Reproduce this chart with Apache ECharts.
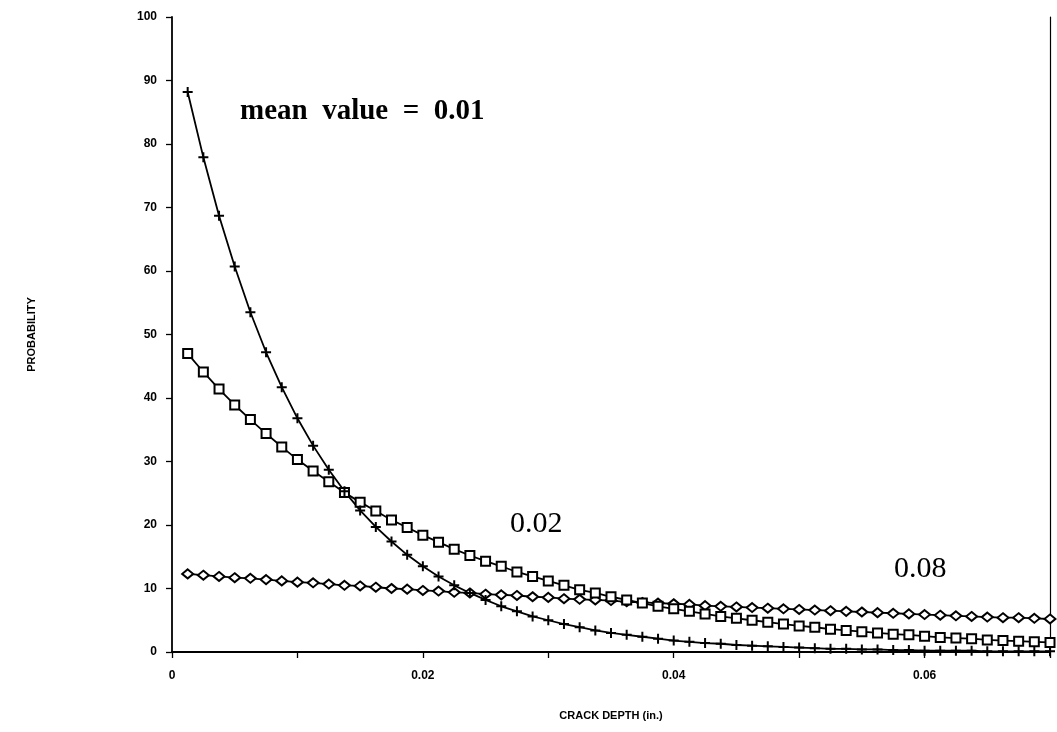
<!DOCTYPE html>
<html>
<head>
<meta charset="utf-8">
<script src="https://cdn.jsdelivr.net/npm/echarts@6/dist/echarts.min.js"></script>
<style>
  html, body { margin: 0; padding: 0; background: #fff; }
  #chart { width: 1057px; height: 732px; }
</style>
</head>
<body>
<div id="chart"></div>
<script>
// crack depth (in.)
const crackDepth = [
  0.00125, 0.0025, 0.00375, 0.005, 0.00625, 0.0075, 0.00875, 0.01,
  0.01125, 0.0125, 0.01375, 0.015, 0.01625, 0.0175, 0.01875, 0.02,
  0.02125, 0.0225, 0.02375, 0.025, 0.02625, 0.0275, 0.02875, 0.03,
  0.03125, 0.0325, 0.03375, 0.035, 0.03625, 0.0375, 0.03875, 0.04,
  0.04125, 0.0425, 0.04375, 0.045, 0.04625, 0.0475, 0.04875, 0.05,
  0.05125, 0.0525, 0.05375, 0.055, 0.05625, 0.0575, 0.05875, 0.06,
  0.06125, 0.0625, 0.06375, 0.065, 0.06625, 0.0675, 0.06875, 0.07
];
// mean value = 0.01  (+ markers)
const mean001 = [
  88.2, 77.9, 68.7, 60.7, 53.5, 47.2, 41.7, 36.8,
  32.5, 28.7, 25.3, 22.3, 19.7, 17.4, 15.3, 13.5,
  11.9, 10.5, 9.3, 8.2, 7.2, 6.4, 5.6, 5.0,
  4.4, 3.9, 3.4, 3.0, 2.7, 2.4, 2.1, 1.8,
  1.6, 1.4, 1.3, 1.1, 1.0, 0.9, 0.8, 0.7,
  0.6, 0.5, 0.5, 0.4, 0.4, 0.3, 0.3, 0.2,
  0.2, 0.2, 0.2, 0.1, 0.1, 0.1, 0.1, 0.1
];
// mean value = 0.02  (square markers)
const mean002 = [
  47.0, 44.1, 41.4, 38.9, 36.6, 34.4, 32.3, 30.3,
  28.5, 26.8, 25.1, 23.6, 22.2, 20.8, 19.6, 18.4,
  17.3, 16.2, 15.2, 14.3, 13.5, 12.6, 11.9, 11.2,
  10.5, 9.8, 9.3, 8.7, 8.2, 7.7, 7.2, 6.8,
  6.4, 6.0, 5.6, 5.3, 5.0, 4.7, 4.4, 4.1,
  3.9, 3.6, 3.4, 3.2, 3.0, 2.8, 2.7, 2.5,
  2.3, 2.2, 2.1, 1.9, 1.8, 1.7, 1.6, 1.5
];
// mean value = 0.08  (diamond markers)
const mean008 = [
  12.3, 12.1, 11.9, 11.7, 11.6, 11.4, 11.2, 11.0,
  10.9, 10.7, 10.5, 10.4, 10.2, 10.0, 9.9, 9.7,
  9.6, 9.4, 9.3, 9.1, 9.0, 8.9, 8.7, 8.6,
  8.4, 8.3, 8.2, 8.1, 7.9, 7.8, 7.7, 7.6,
  7.5, 7.3, 7.2, 7.1, 7.0, 6.9, 6.8, 6.7,
  6.6, 6.5, 6.4, 6.3, 6.2, 6.1, 6.0, 5.9,
  5.8, 5.7, 5.6, 5.5, 5.4, 5.4, 5.3, 5.2
];
const xTickLabels = ["0", "0.02", "0.04", "0.06"];

const pair = (ys) => crackDepth.map((x, i) => [x, ys[i]]);

const plusPath = "path://M4,0 H6 V4 H10 V6 H6 V10 H4 V6 H0 V4 H4 Z";
const axisFont = { fontFamily: "Liberation Sans", fontWeight: "bold", fontSize: 12, color: "#000" };

const chart = echarts.init(document.getElementById("chart"), null, { renderer: "canvas" });

chart.setOption({
  backgroundColor: "#fff",
  animation: false,
  grid: { left: 172, right: 7, top: 17, bottom: 80 },
  xAxis: {
    type: "value",
    min: 0,
    max: 0.07,
    interval: 0.01,
    name: "CRACK DEPTH (in.)",
    nameLocation: "middle",
    nameGap: 58,
    nameTextStyle: { fontFamily: "Liberation Sans", fontWeight: "bold", fontSize: 11, color: "#000" },
    axisLine: { show: true, onZero: false, lineStyle: { color: "#000", width: 1.8 } },
    axisTick: { show: true, inside: false, length: 6, lineStyle: { color: "#000", width: 1.3 } },
    splitLine: { show: false },
    axisLabel: Object.assign({
      margin: 18,
      formatter: (v) => {
        const s = String(+v.toFixed(2));
        return xTickLabels.includes(s) ? s : "";
      }
    }, axisFont)
  },
  yAxis: [
    {
      type: "value",
      min: 0,
      max: 100,
      interval: 10,
      name: "PROBABILITY",
      nameLocation: "middle",
      nameGap: 135,
      nameRotate: 90,
      nameTextStyle: { fontFamily: "Liberation Sans", fontWeight: "bold", fontSize: 11, color: "#000" },
      axisLine: { show: true, lineStyle: { color: "#000", width: 1.8 } },
      axisTick: { show: true, length: 6, lineStyle: { color: "#000", width: 1.3 } },
      splitLine: { show: false },
      axisLabel: Object.assign({ margin: 15 }, axisFont)
    },
    {
      type: "value",
      position: "right",
      min: 0,
      max: 100,
      axisLine: { show: true, lineStyle: { color: "#000", width: 1.2 } },
      axisTick: { show: false },
      axisLabel: { show: false },
      splitLine: { show: false }
    }
  ],
  series: [
    {
      name: "0.08",
      type: "line",
      data: pair(mean008),
      symbol: "diamond",
      symbolSize: [11, 9],
      showAllSymbol: true,
      lineStyle: { color: "#000", width: 1.8 },
      itemStyle: { color: "#fff", borderColor: "#000", borderWidth: 2 }
    },
    {
      name: "0.02",
      type: "line",
      data: pair(mean002),
      symbol: "rect",
      symbolSize: 9,
      showAllSymbol: true,
      lineStyle: { color: "#000", width: 1.8 },
      itemStyle: { color: "#fff", borderColor: "#000", borderWidth: 2 }
    },
    {
      name: "0.01",
      type: "line",
      data: pair(mean001),
      symbol: plusPath,
      symbolSize: 10,
      showAllSymbol: true,
      lineStyle: { color: "#000", width: 1.8 },
      itemStyle: { color: "#000" }
    }
  ],
  graphic: [
    {
      type: "text",
      left: 240,
      top: 97,
      style: { text: "mean  value  =  0.01", font: "bold 29px 'Liberation Serif'", fill: "#000" }
    },
    {
      type: "text",
      left: 510,
      top: 509,
      style: { text: "0.02", font: "30px 'Liberation Serif'", fill: "#000" }
    },
    {
      type: "text",
      left: 894,
      top: 554,
      style: { text: "0.08", font: "30px 'Liberation Serif'", fill: "#000" }
    }
  ]
});
</script>
</body>
</html>
